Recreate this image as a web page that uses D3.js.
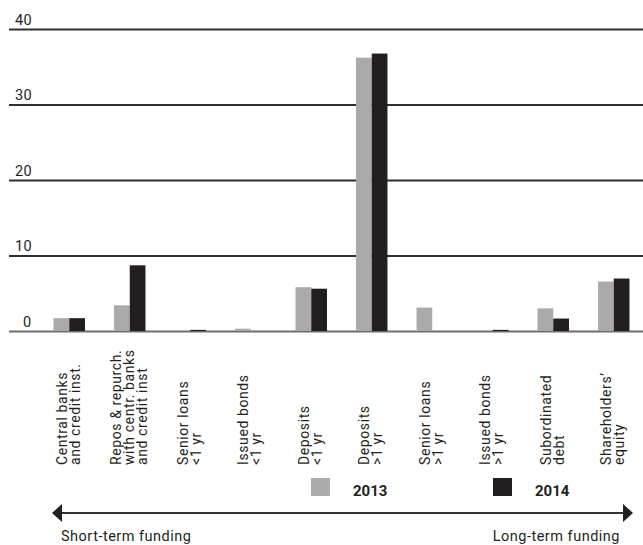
<!DOCTYPE html>
<html>
<head>
<meta charset="utf-8">
<script src="https://cdn.jsdelivr.net/npm/d3@7/dist/d3.min.js"></script>
<style>
  body { margin: 0; background: #fff; }
  svg text { font-family: Roboto, "DejaVu Sans", sans-serif; fill: #231f20; }
</style>
</head>
<body>
<svg class="chart" width="643" height="545"></svg>
<script>
// categories, one array of text lines per bar group
var categories = [
  ["Central banks", "and credit inst."],
  ["Repos & repurch.", "with centr. banks", "and credit inst"],
  ["Senior loans", "<1 yr"],
  ["Issued bonds", "<1 yr"],
  ["Deposits", "<1 yr"],
  ["Deposits", ">1 yr"],
  ["Senior loans", ">1 yr"],
  ["Issued bonds", ">1 yr"],
  ["Subordinated", "debt"],
  ["Shareholders\u2019", "equity"]
];
var years = ["2013", "2014"];
var values2013 = [1.7, 3.4, 0, 0.3, 5.8, 36.2, 3.1, 0, 3.0, 6.55];
var values2014 = [1.7, 8.7, 0.15, 0, 5.6, 36.75, 0, 0.15, 1.65, 6.95];
var yTicks = [0, 10, 20, 30, 40];

var colors = { "2013": "#aaaaaa", "2014": "#231f20" };

var svg = d3.select(".chart");

var data = categories.map(function(c, i) {
  return { lines: c, key: i, vals: [
    { year: "2013", value: values2013[i] },
    { year: "2014", value: values2014[i] }
  ] };
});

// scales
var y = d3.scaleLinear().domain([0, 40]).range([331, 29]);

var x0 = d3.scaleBand()
    .domain(data.map(function(d) { return d.key; }))
    .range([39, 644])
    .paddingInner(0.48)
    .paddingOuter(0.24);

var x1 = d3.scaleBand()
    .domain(years)
    .range([0, x0.bandwidth()]);

// gridlines + tick labels
var yAxis = d3.axisRight(y)
    .tickValues(yTicks)
    .tickSize(634)
    .tickFormat(d3.format("d"));

var ga = svg.append("g")
    .attr("class", "y axis")
    .attr("transform", "translate(9,0)")
    .call(yAxis);

ga.select(".domain").remove();
ga.selectAll(".tick line")
    .attr("stroke", function(d) { return d === 0 ? "#6d6d6d" : "#2e2e2e"; })
    .attr("stroke-width", 2);
ga.selectAll(".tick text")
    .attr("x", 6)
    .attr("dy", -5)
    .attr("font-size", 14.5)
    .attr("letter-spacing", 0.4)
    .attr("text-anchor", "start")
    .attr("font-family", "Roboto")
    .attr("fill", "#231f20");
ga.selectAll(".tick text").filter(function(d) { return d === 0; })
    .attr("x", 14);

// bars
var groups = svg.selectAll("g.group")
    .data(data)
  .enter().append("g")
    .attr("class", "group")
    .attr("transform", function(d) { return "translate(" + x0(d.key) + ",0)"; });

groups.selectAll("rect")
    .data(function(d) { return d.vals; })
  .enter().append("rect")
    .attr("x", function(d) { return x1(d.year); })
    .attr("width", x1.bandwidth())
    .attr("y", function(d) { return y(d.value); })
    .attr("height", function(d) { return y(0) - y(d.value); })
    .attr("fill", function(d) { return colors[d.year]; });

// category labels, rotated
var lineGap = 13;
groups.each(function(d) {
  var cx = x0.bandwidth() / 2;
  var n = d.lines.length;
  var g = d3.select(this);
  d.lines.forEach(function(line, j) {
    var lx = cx + (j - (n - 1) / 2) * lineGap + 4;
    g.append("text")
      .attr("transform", "translate(" + lx + ",465) rotate(-90)")
      .attr("font-size", 14)
      .attr("letter-spacing", 0.6)
      .attr("text-anchor", "start")
      .text(line);
  });
});

// legend
var legendX = [311, 493];
var legend = svg.selectAll("g.legend")
    .data(years)
  .enter().append("g")
    .attr("class", "legend")
    .attr("transform", function(d, i) { return "translate(" + legendX[i] + ",478)"; });

legend.append("rect")
    .attr("width", 19)
    .attr("height", 18)
    .attr("fill", function(d) { return colors[d]; });

legend.append("text")
    .attr("x", 42)
    .attr("y", 18)
    .attr("font-size", 15)
    .attr("font-weight", "bold")
    .text(function(d) { return d; });

// funding arrow
var ax = d3.scaleLinear().domain([0, 1]).range([52, 633]);
svg.append("line")
    .attr("x1", ax(0) + 8).attr("x2", ax(1) - 8)
    .attr("y1", 513).attr("y2", 513)
    .attr("stroke", "#333")
    .attr("stroke-width", 1.8);

svg.append("path")
    .attr("d", "M" + ax(0) + ",513 L" + (ax(0) + 10) + ",504 L" + (ax(0) + 10) + ",522 Z")
    .attr("fill", "#231f20");
svg.append("path")
    .attr("d", "M" + ax(1) + ",513 L" + (ax(1) - 10) + ",504 L" + (ax(1) - 10) + ",522 Z")
    .attr("fill", "#231f20");

svg.append("text")
    .attr("x", 61).attr("y", 541)
    .attr("font-size", 14.5)
    .attr("letter-spacing", 0.5)
    .text("Short-term funding");

svg.append("text")
    .attr("x", 620).attr("y", 541)
    .attr("font-size", 14.5)
    .attr("letter-spacing", 0.5)
    .attr("text-anchor", "end")
    .text("Long-term funding");
</script>
</body>
</html>
